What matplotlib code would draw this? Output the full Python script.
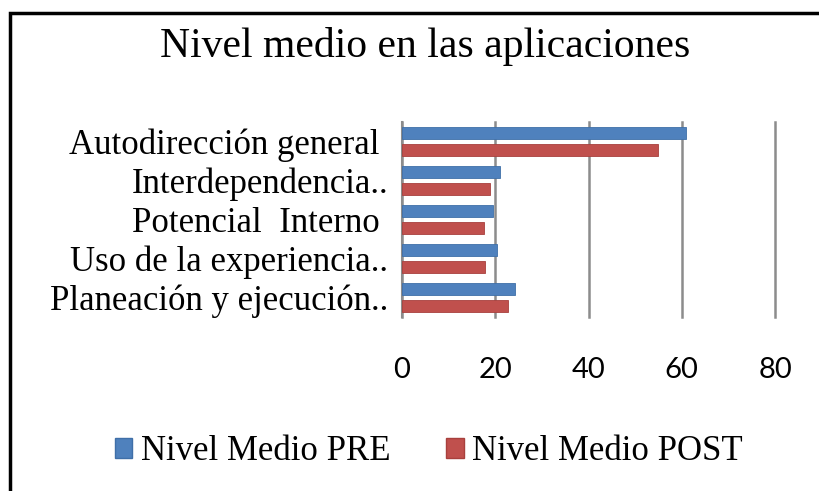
import matplotlib
matplotlib.use("Agg")
import matplotlib.pyplot as plt
from matplotlib.patches import Rectangle, Patch
import numpy as np

# data, bottom to top as drawn
categorias = ["Planeación y ejecución..", "Uso de la experiencia..",
              "Potencial  Interno ", "Interdependencia..", "Autodirección general "]
nivel_pre = [24.3, 20.3, 19.5, 21.1, 61.0]
nivel_post = [22.8, 17.8, 17.5, 18.8, 54.9]
ticks_x = [0, 20, 40, 60, 80]

azul = "#4F81BD"
rojo = "#C0504D"
serif = "Liberation Serif"

fig = plt.figure(figsize=(8.19, 4.91), dpi=100)
ax = fig.add_axes([402 / 819, 1 - 317 / 491, 373 / 819, 195 / 491])

y = np.arange(len(categorias))
h = 0.31
ax.barh(y + 0.21, nivel_pre, height=h, color=azul, edgecolor="#3f6fa8", linewidth=0.6,
        label="Nivel Medio PRE", zorder=3)
ax.barh(y - 0.21, nivel_post, height=h, color=rojo, edgecolor="#a8403d", linewidth=0.6,
        label="Nivel Medio POST", zorder=3)

ax.set_xlim(0, 80)
ax.set_ylim(-0.5, len(categorias) - 0.5)
ax.set_xticks(ticks_x)
ax.set_yticks(y)
ax.set_yticklabels(categorias, fontfamily=serif, fontsize=25)
ax.tick_params(axis="y", length=0, pad=10)
ax.tick_params(axis="x", length=0, pad=29, labelsize=21)
for t in ax.get_xticklabels():
    t.set_fontfamily("Lato")
ax.grid(axis="x", color="#8c8c8c", linewidth=1.8, zorder=0)
for gl in ax.get_xgridlines():
    gl.set_clip_on(False)
for s in ["top", "right", "bottom"]:
    ax.spines[s].set_visible(False)
ax.spines["left"].set_color("#8c8c8c")
ax.spines["left"].set_linewidth(1.5)

fig.text(425 / 819, 1 - 46 / 491, "Nivel medio en las aplicaciones",
         ha="center", va="center", fontfamily=serif, fontsize=30)

handles = [Patch(facecolor=azul, edgecolor="#3f6fa8", label="Nivel Medio PRE"),
           Patch(facecolor=rojo, edgecolor="#a8403d", label="Nivel Medio POST")]
fig.legend(handles=handles, loc="center", bbox_to_anchor=(429 / 819, 1 - 452 / 491),
           ncol=2, frameon=False, prop={"family": serif, "size": 25},
           handlelength=0.5, handleheight=0.5, handletextpad=0.25, columnspacing=1.6)

fig.patches.append(Rectangle((10 / 819, -0.2), 2, 0.9735 + 0.2, transform=fig.transFigure,
                             fill=False, edgecolor="black", linewidth=2.5))

fig.savefig("out.png", dpi=100, facecolor="white")
